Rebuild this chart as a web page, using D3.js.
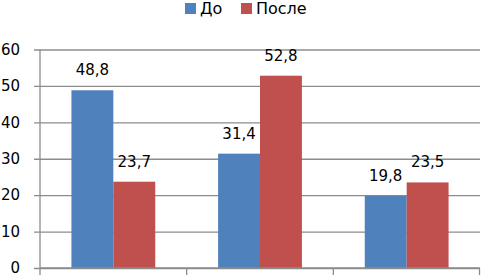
<!DOCTYPE html>
<html>
<head>
<meta charset="utf-8">
<script src="https://cdn.jsdelivr.net/npm/d3@7"></script>
<style>
    body { margin: 0; background: #fff; }
    text { font-family: "DejaVu Sans", sans-serif; fill: #000; }
</style>
</head>
<body>
<div id="chart"></div>
<script>
// data
const categories = ["A", "B", "C"];
const seriesNames = ["До", "После"];
const before = [48.8, 31.4, 19.8];
const after = [23.7, 52.8, 23.5];
const yTicks = [0, 10, 20, 30, 40, 50, 60];
const colors = ["#4F81BD", "#C0504D"];

const W = 481, H = 275;
const margin = {top: 49.5, right: 1, bottom: 7, left: 40};
const width = W - margin.left - margin.right;
const height = H - margin.top - margin.bottom;

const svg = d3.select("#chart").append("svg")
    .attr("width", W)
    .attr("height", H);

const g = svg.append("g")
    .attr("transform", `translate(${margin.left}, ${margin.top})`);

const x0 = d3.scaleBand()
    .domain(categories)
    .range([0, width])
    .padding(0);

const x1 = d3.scaleBand()
    .domain(seriesNames)
    .range([0, x0.bandwidth()])
    .paddingInner(0)
    .paddingOuter(0.75);

const y = d3.scaleLinear()
    .domain([0, 60])
    .range([height, 0]);

// gridlines + y labels
const yAxis = d3.axisLeft(y)
    .tickValues(yTicks)
    .tickSize(-width - 6)
    .tickPadding(14)
    .tickFormat(d3.format("d"));

const yg = g.append("g")
    .attr("transform", "translate(-6,0)")
    .call(yAxis);
yg.select(".domain").remove();
yg.selectAll(".tick line").attr("stroke", "#8c8c8c").attr("stroke-width", 1.3)
    .attr("transform", "translate(6,0)")
    .attr("x2", width + 6).attr("x1", 0);
yg.selectAll(".tick line").attr("x1", -6).attr("x2", width);
yg.selectAll(".tick text").attr("font-size", 15).attr("x", -14);

// y axis line
g.append("line")
    .attr("x1", 0).attr("x2", 0)
    .attr("y1", 0).attr("y2", height)
    .attr("stroke", "#8c8c8c").attr("stroke-width", 1.3);

// bars
const rows = categories.map((c, i) => ({cat: c, vals: [before[i], after[i]]}));

const groups = g.selectAll(".grp")
    .data(rows)
    .join("g")
    .attr("class", "grp")
    .attr("transform", d => `translate(${x0(d.cat)},0)`);

groups.selectAll("rect")
    .data(d => d.vals.map((v, j) => ({name: seriesNames[j], val: v, j})))
    .join("rect")
    .attr("x", d => x1(d.name))
    .attr("y", d => y(d.val))
    .attr("width", x1.bandwidth())
    .attr("height", d => height - y(d.val))
    .attr("fill", d => colors[d.j]);

groups.selectAll(".lbl")
    .data(d => d.vals.map((v, j) => ({name: seriesNames[j], val: v, j})))
    .join("text")
    .attr("class", "lbl")
    .attr("x", d => x1(d.name) + x1.bandwidth() / 2)
    .attr("y", d => y(d.val) - 15)
    .attr("text-anchor", "middle")
    .attr("font-size", 15)
    .text(d => d.val.toFixed(1).replace(".", ","));

// x axis
const xg = g.append("g").attr("transform", `translate(0,${height})`);
xg.append("line")
    .attr("x1", 0).attr("x2", width)
    .attr("stroke", "#8c8c8c").attr("stroke-width", 1.3);
const bounds = categories.map(c => x0(c)).concat([width - 0.5]);
xg.selectAll(".xt")
    .data(bounds)
    .join("line")
    .attr("class", "xt")
    .attr("x1", d => d).attr("x2", d => d)
    .attr("y1", 0).attr("y2", 7)
    .attr("stroke", "#8c8c8c").attr("stroke-width", 1.3);

// legend
const legend = svg.append("g");
const legendX = [185, 241];
seriesNames.forEach((s, i) => {
    legend.append("rect")
        .attr("x", legendX[i]).attr("y", 3)
        .attr("width", 11).attr("height", 11)
        .attr("fill", colors[i]);
    legend.append("text")
        .attr("x", legendX[i] + 15).attr("y", 14)
        .attr("font-size", 16)
        .text(s);
});
</script>
</body>
</html>
